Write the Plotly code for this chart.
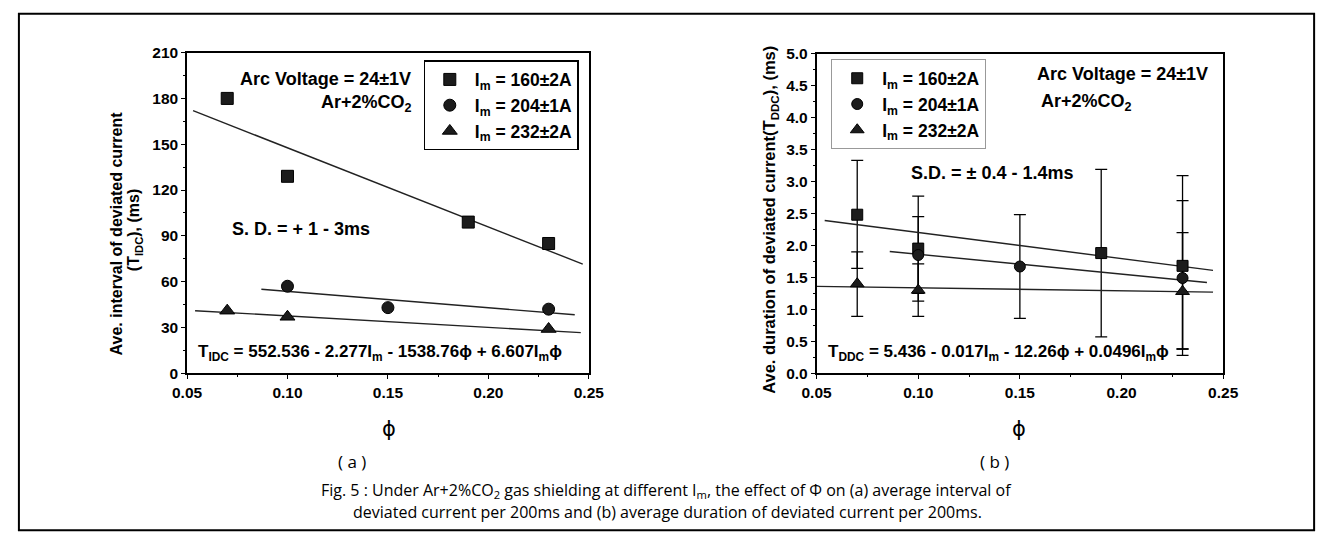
import plotly.graph_objects as go

W, H = 1334, 546

# ---------------- data (a): average interval of deviated current ----------------
phi_a_160 = [0.07, 0.10, 0.19, 0.23]
tidc_160 = [180, 129, 99, 85]
phi_a_204 = [0.10, 0.15, 0.23]
tidc_204 = [57, 43, 42]
phi_a_232 = [0.07, 0.10, 0.23]
tidc_232 = [41, 37, 29]

fit_a_160_x = [0.053, 0.247]
fit_a_160_y = [172, 71.5]
fit_a_204_x = [0.087, 0.243]
fit_a_204_y = [55, 38.3]
fit_a_232_x = [0.054, 0.246]
fit_a_232_y = [41, 26.6]

# ---------------- data (b): average duration of deviated current ----------------
phi_b_160 = [0.07, 0.10, 0.19, 0.23]
tddc_160 = [2.48, 1.95, 1.88, 1.68]
tddc_160_up = [0.85, 0.82, 1.31, 1.41]
tddc_160_dn = [0.84, 0.82, 1.31, 1.40]
phi_b_204 = [0.10, 0.15, 0.23]
tddc_204 = [1.85, 1.67, 1.49]
tddc_204_up = [0.60, 0.81, 1.21]
tddc_204_dn = [0.60, 0.81, 1.11]
phi_b_232 = [0.07, 0.10, 0.23]
tddc_232 = [1.40, 1.30, 1.28]
tddc_232_up = [0.50, 0.41, 0.92]
tddc_232_dn = [0.51, 0.41, 0.90]

fit_b_160_x = [0.054, 0.245]
fit_b_160_y = [2.39, 1.61]
fit_b_204_x = [0.086, 0.242]
fit_b_204_y = [1.905, 1.42]
fit_b_232_x = [0.05, 0.245]
fit_b_232_y = [1.36, 1.27]

x_ticks = [0.05, 0.10, 0.15, 0.20, 0.25]
x_ticklabels = ["0.05", "0.10", "0.15", "0.20", "0.25"]
ya_ticks = [0, 30, 60, 90, 120, 150, 180, 210]
yb_ticks = [0.0, 0.5, 1.0, 1.5, 2.0, 2.5, 3.0, 3.5, 4.0, 4.5, 5.0]
yb_ticklabels = ["%.1f" % v for v in yb_ticks]

series_names = ["I<sub>m</sub> = 160±2A", "I<sub>m</sub> = 204±1A", "I<sub>m</sub> = 232±2A"]
symbols = ["square", "circle", "triangle-up"]

# ---------------- helpers ----------------
def px(x):
    return x / W

def py(y):
    return 1 - y / H

MK = "#1c1c1c"
FONT = "Liberation Sans"

fig = go.Figure()

# (a) fit lines
for fx, fy in [(fit_a_160_x, fit_a_160_y), (fit_a_204_x, fit_a_204_y), (fit_a_232_x, fit_a_232_y)]:
    fig.add_trace(go.Scatter(x=fx, y=fy, mode="lines", line=dict(color="#222", width=1.4),
                             showlegend=False, hoverinfo="skip", xaxis="x", yaxis="y"))
# (a) markers
for (xs, ys), name, sym, sz in zip([(phi_a_160, tidc_160), (phi_a_204, tidc_204), (phi_a_232, tidc_232)],
                                   series_names, symbols, [12, 12, 13]):
    fig.add_trace(go.Scatter(x=xs, y=ys, mode="markers", name=name,
                             marker=dict(symbol=sym, size=sz, color=MK, line=dict(color="black", width=1)),
                             xaxis="x", yaxis="y", legend="legend"))

# (b) error bars
for xs, ys, up, dn in [(phi_b_160, tddc_160, tddc_160_up, tddc_160_dn),
                       (phi_b_204, tddc_204, tddc_204_up, tddc_204_dn),
                       (phi_b_232, tddc_232, tddc_232_up, tddc_232_dn)]:
    fig.add_trace(go.Scatter(x=xs, y=ys, mode="markers", marker=dict(size=1, color="rgba(0,0,0,0)"),
                             error_y=dict(type="data", symmetric=False, array=up, arrayminus=dn,
                                          color="black", thickness=1.3, width=6),
                             showlegend=False, hoverinfo="skip", xaxis="x2", yaxis="y2"))
# (b) fit lines
for fx, fy in [(fit_b_160_x, fit_b_160_y), (fit_b_204_x, fit_b_204_y), (fit_b_232_x, fit_b_232_y)]:
    fig.add_trace(go.Scatter(x=fx, y=fy, mode="lines", line=dict(color="#222", width=1.4),
                             showlegend=False, hoverinfo="skip", xaxis="x2", yaxis="y2"))
# (b) markers
for (xs, ys), name, sym, sz in zip([(phi_b_160, tddc_160), (phi_b_204, tddc_204), (phi_b_232, tddc_232)],
                                   series_names, symbols, [11, 11, 12]):
    fig.add_trace(go.Scatter(x=xs, y=ys, mode="markers", name=name,
                             marker=dict(symbol=sym, size=sz, color=MK, line=dict(color="black", width=1)),
                             xaxis="x2", yaxis="y2", legend="legend2"))

tickfont = dict(family=FONT, size=15.5, color="black", weight="bold")
axis_common = dict(showline=True, linecolor="black", linewidth=1.5, mirror=True,
                   ticks="outside", ticklen=4, tickwidth=1.2, tickcolor="black",
                   showgrid=False, zeroline=False, tickfont=tickfont)

legend_font = dict(family=FONT, size=17.5, color="black", weight="bold")

fig.update_layout(
    width=W, height=H,
    margin=dict(l=0, r=0, t=0, b=0),
    paper_bgcolor="white", plot_bgcolor="white",
    xaxis=dict(domain=[px(176), px(587)], range=[0.05, 0.25], anchor="y",
               tickvals=x_ticks, ticktext=x_ticklabels,
               minor=dict(ticks="outside", ticklen=2, tickcolor="black", dtick=0.025, tick0=0.05),
               **axis_common),
    yaxis=dict(domain=[py(376), py(45)], range=[0, 210], anchor="x",
               tickvals=ya_ticks,
               minor=dict(ticks="outside", ticklen=2, tickcolor="black", dtick=15, tick0=0),
               **axis_common),
    xaxis2=dict(domain=[px(820), px(1236)], range=[0.05, 0.25], anchor="y2",
                tickvals=x_ticks, ticktext=x_ticklabels,
                minor=dict(ticks="outside", ticklen=2, tickcolor="black", dtick=0.025, tick0=0.05),
                **axis_common),
    yaxis2=dict(domain=[py(376), py(46)], range=[0, 5], anchor="x2",
                tickvals=yb_ticks, ticktext=yb_ticklabels,
                minor=dict(ticks="outside", ticklen=2, tickcolor="black", dtick=0.25, tick0=0),
                **axis_common),
    legend=dict(x=px(418), y=py(53), xanchor="left", yanchor="top",
                bordercolor="black", borderwidth=1.2, bgcolor="white",
                font=legend_font, itemwidth=40, itemclick=False),
    legend2=dict(x=px(835), y=py(52), xanchor="left", yanchor="top",
                 bordercolor="#999", borderwidth=1, bgcolor="white",
                 font=legend_font, itemwidth=40, itemclick=False),
    showlegend=True,
)

ann = []
def txt(text, x, y, xanchor="left", size=18, bold=True, family=FONT, angle=0):
    ann.append(dict(text=text, x=px(x), y=py(y), xref="paper", yref="paper",
                    xanchor=xanchor, yanchor="middle", showarrow=False, textangle=angle,
                    font=dict(family=family, size=size, color="black",
                              weight="bold" if bold else "normal")))

# (a) texts
txt("Arc Voltage = 24±1V", 407, 72, xanchor="right")
txt("Ar+2%CO<sub>2</sub>", 408, 98, xanchor="right")
txt("S. D. = + 1 - 3ms", 220, 227)
txt("T<sub>IDC</sub> = 552.536 - 2.277I<sub>m</sub> - 1538.76ϕ + 6.607I<sub>m</sub>ϕ", 185, 355, size=17)
# (b) texts
txt("Arc Voltage = 24±1V", 1043, 67)
txt("Ar+2%CO<sub>2</sub>", 1048, 97)
txt("S.D. = ± 0.4 - 1.4ms", 915, 169)
txt("T<sub>DDC</sub> = 5.436 - 0.017I<sub>m</sub> - 12.26ϕ + 0.0496I<sub>m</sub>ϕ", 830, 355, size=17)

# axis titles
txt("Ave. interval of deviated current", 104, 232, xanchor="center", size=16, angle=-90)
txt("(T<sub>IDC</sub>), (ms)", 123, 228, xanchor="center", size=16, angle=-90)
txt("Ave. duration of deviated current(T<sub>DDC</sub>), (ms)", 773, 218, xanchor="center", size=16.5, angle=-90)
txt("ϕ", 383, 434, xanchor="center", size=21, bold=False, family="DejaVu Sans")
txt("ϕ", 1027, 434, xanchor="center", size=21, bold=False, family="DejaVu Sans")

# panel labels and caption
txt("( a )", 345, 467, xanchor="center", size=17, bold=False, family="Open Sans")
txt("( b )", 1002, 467, xanchor="center", size=17, bold=False, family="Open Sans")
txt("Fig. 5 : Under Ar+2%CO<sub>2</sub> gas shielding at different I<sub>m</sub>, the effect of Φ on (a) average interval of",
    666, 497, xanchor="center", size=16, bold=False, family="Open Sans")
txt("deviated current per 200ms and (b) average duration of deviated current per 200ms.",
    667, 519, xanchor="center", size=16, bold=False, family="Open Sans")

fig.update_layout(annotations=ann)

# outer frame
fig.add_shape(type="rect", xref="paper", yref="paper",
              x0=px(4), x1=px(1329), y0=py(538), y1=py(5),
              line=dict(color="black", width=2), fillcolor="rgba(0,0,0,0)", layer="below")

fig.write_html("out.html")
